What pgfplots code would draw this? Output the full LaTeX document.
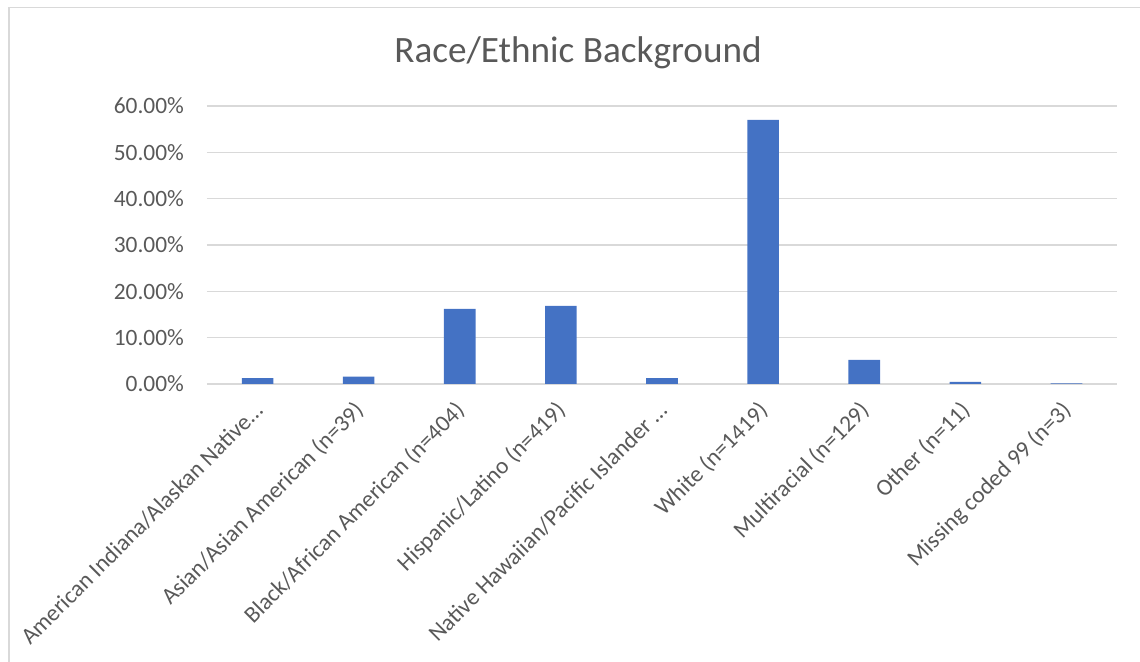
\documentclass[border=0pt]{standalone}
\usepackage{pgfplots}
\pgfplotsset{compat=1.18}
\usepackage{fontspec}
\setmainfont{Carlito}
\definecolor{barblue}{HTML}{4472C4}
\definecolor{gridgray}{HTML}{D9D9D9}
\definecolor{textgray}{HTML}{595959}
\begin{document}
\begin{tikzpicture}[x=1pt,y=1pt]
\useasboundingbox (0,0) rectangle (570,331);
% chart frame (top and left edges)
\draw[gridgray, line width=0.8pt] (4.5,0) -- (4.5,327.3) -- (570,327.3);
% title
\node[anchor=base, text=textgray, font=\fontsize{18.6}{22}\selectfont] at (289,299.5) {Race/Ethnic Background};
\begin{axis}[
  at={(103.5pt,139pt)}, anchor=south west,
  scale only axis, width=455pt, height=139pt,
  xmin=-0.5, xmax=8.5, ymin=0, ymax=60,
  xtick={0,...,8},
  xticklabels={American Indiana/Alaskan Native…,Asian/Asian American (n=39),Black/African American (n=404),Hispanic/Latino (n=419),Native Hawaiian/Pacific Islander …,White (n=1419),Multiracial (n=129),Other (n=11),Missing coded 99 (n=3)},
  ytick={0,10,...,60},
  yticklabel={\pgfmathprintnumber[fixed,fixed zerofill,precision=2]{\tick}\%},
  /pgf/number format/assume math mode=true,
  ymajorgrids, grid style={gridgray, line width=0.75pt},
  axis lines*=left,
  y axis line style={draw=none},
  x axis line style={gridgray, line width=1pt, -},
  major tick length=0pt,
  tick label style={text=textgray, font=\fontsize{11.7}{14}\selectfont},
  yticklabel style={anchor=east, xshift=-8pt},
  xticklabel style={xshift=3pt, yshift=-9pt, rotate=45, anchor=east},
  ybar, bar width=15.8pt,
]
\addplot[fill=barblue, draw=none] coordinates {
  (0,1.29) (1,1.57) (2,16.24) (3,16.84) (4,1.29) (5,57.03) (6,5.18) (7,0.44) (8,0.12)
};
\end{axis}
\end{tikzpicture}
\end{document}
